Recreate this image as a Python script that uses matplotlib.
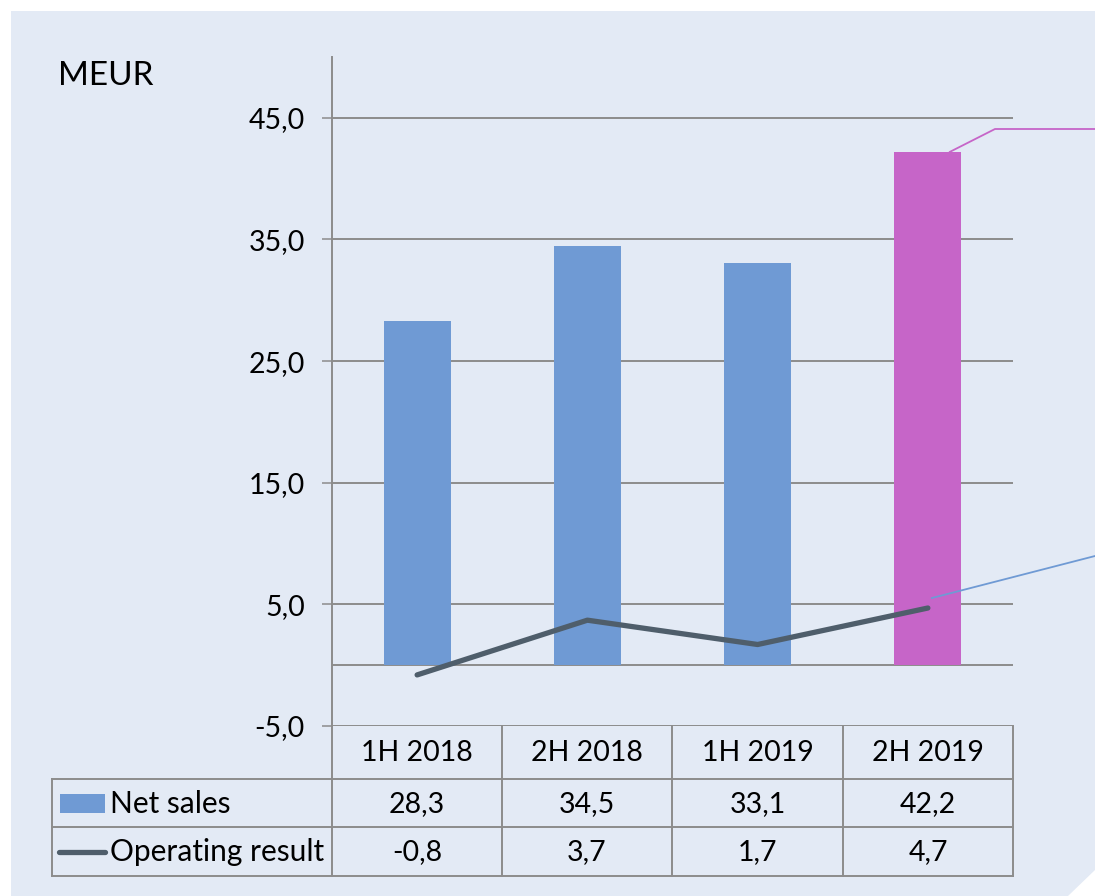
import matplotlib
matplotlib.use("Agg")
import matplotlib.pyplot as plt
from matplotlib.patches import Polygon, Rectangle
from matplotlib.lines import Line2D

categories = ["1H 2018", "2H 2018", "1H 2019", "2H 2019"]
net_sales = [28.3, 34.5, 33.1, 42.2]
operating_result = [-0.8, 3.7, 1.7, 4.7]
net_sales_labels = ["28,3", "34,5", "33,1", "42,2"]
op_labels = ["-0,8", "3,7", "1,7", "4,7"]
yticks = [-5, 5, 15, 25, 35, 45]
ytick_labels = ["-5,0", "5,0", "15,0", "25,0", "35,0", "45,0"]
series_names = ["Net sales", "Operating result"]

W, H = 1095, 896
plt.rcParams['font.family'] = ['Lato', 'DejaVu Sans']
FS = 20.5

BG = "#E3EAF5"
BLUE = "#6F9AD4"
PURPLE = "#C665C8"
LINEC = "#4F5E6B"
GRID = "#8C8C8C"

fig = plt.figure(figsize=(W / 100, H / 100), dpi=100, facecolor="white")

def fx(px):
    return px / W

def fy(py):
    return 1 - py / H

bg = Polygon([(fx(11), fy(896)), (fx(11), fy(11)), (fx(1095), fy(11)),
              (fx(1095), fy(870)), (fx(1068), fy(896))],
             closed=True, transform=fig.transFigure, facecolor=BG, edgecolor="none", zorder=-5)
fig.patches.append(bg)

ax_left, ax_right, ax_top, ax_bottom = 332, 1013, 57, 726
ax = fig.add_axes([fx(ax_left), fy(ax_bottom), fx(ax_right - ax_left), (ax_bottom - ax_top) / H])
ax.set_zorder(2)
ax.set_facecolor("none")
ax.set_xlim(-0.5, 3.5)
ax.set_ylim(-5, 50)

x = list(range(len(categories)))
colors = [BLUE, BLUE, BLUE, PURPLE]
ax.bar(x, net_sales, width=0.395, color=colors, zorder=3)
ax.plot(x, operating_result, color=LINEC, lw=3.8, solid_capstyle="round", zorder=5)

for t in yticks:
    ax.axhline(t, color=GRID, lw=1.4, zorder=1)
ax.axhline(0, color=GRID, lw=1.4, zorder=2)

ax.set_yticks(yticks)
ax.set_yticklabels(ytick_labels, fontsize=FS)
ax.tick_params(axis="y", length=7.5, width=1.1, color=GRID, pad=12, direction="out")
ax.set_xticks([])
for s in ["top", "right", "bottom"]:
    ax.spines[s].set_visible(False)
ax.spines["left"].set_color(GRID)
ax.spines["left"].set_linewidth(1.4)

# table
row_y = [726, 779, 827, 876]
col_x = [332, 502, 672, 843, 1013]
tab_left = 52
lw_t = 1.4
def fline(xs, ys, **kw):
    fig.add_artist(Line2D([fx(v) for v in xs], [fy(v) for v in ys], transform=fig.transFigure,
                          color=GRID, lw=lw_t, **kw))

for yy in row_y[1:]:
    fline([tab_left, 1013], [yy, yy])
for xx in col_x:
    fline([xx, xx], [726, 876])
fline([tab_left, tab_left], [779, 876])

for i, c in enumerate(categories):
    cx = (col_x[i] + col_x[i + 1]) / 2
    fig.text(fx(cx), fy(753), c, ha="center", va="center", fontsize=FS)
    fig.text(fx(cx), fy(804), net_sales_labels[i], ha="center", va="center", fontsize=FS)
    fig.text(fx(cx), fy(852), op_labels[i], ha="center", va="center", fontsize=FS)

fig.patches.append(Rectangle((fx(60), fy(813)), fx(45), (813 - 794) / H, transform=fig.transFigure,
                             facecolor=BLUE, edgecolor="none"))
fig.add_artist(Line2D([fx(59), fx(105)], [fy(852), fy(852)], transform=fig.transFigure,
                      color=LINEC, lw=3.8, solid_capstyle="round"))
fig.text(fx(110), fy(804), series_names[0], ha="left", va="center", fontsize=21.5)
fig.text(fx(110), fy(852), series_names[1], ha="left", va="center", fontsize=21.5)

fig.text(fx(58), fy(76), "MEUR", ha="left", va="center", fontsize=24)

# leader lines for (cropped) data labels
def to_px(xd, yd):
    X, Y = ax.transData.transform((xd, yd))
    return X, H - Y

px0, py0 = to_px(x[3], net_sales[3])
fig.add_artist(Line2D([fx(px0 + 22), fx(995), fx(1095)], [fy(py0), fy(129), fy(129)],
                      transform=fig.transFigure, color=PURPLE, lw=1.3, zorder=10))
px1, py1 = to_px(x[3], operating_result[3])
fig.add_artist(Line2D([fx(px1 + 4), fx(1095)], [fy(py1 - 10), fy(556)],
                      transform=fig.transFigure, color=BLUE, lw=1.3, zorder=10))

fig.savefig("out.png", dpi=100, facecolor="white")
